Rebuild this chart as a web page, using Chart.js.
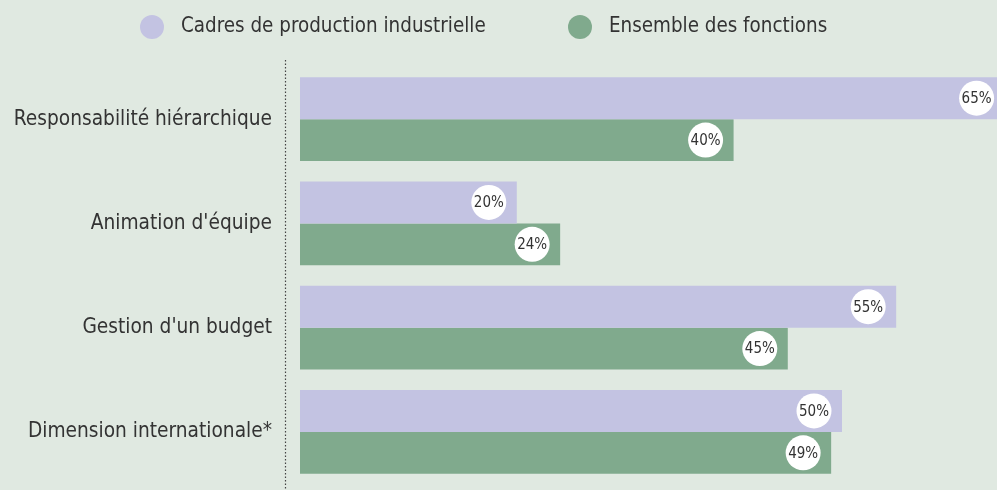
<!DOCTYPE html>
<html>
<head>
<meta charset="utf-8">
<script src="https://cdn.jsdelivr.net/npm/chart.js@4"></script>
<style>
  html, body { margin: 0; padding: 0; background: #e0e9e1; }
</style>
</head>
<body>
<canvas id="chart" width="997" height="490"></canvas>
<script>
const categories = [
  'Responsabilité hiérarchique',
  "Animation d'équipe",
  "Gestion d'un budget",
  'Dimension internationale*'
];
const seriesNames = ['Cadres de production industrielle', 'Ensemble des fonctions'];
const cadresValues = [65, 20, 55, 50];
const ensembleValues = [40, 24, 45, 49];

const FONT = '"DejaVu Sans Condensed", "DejaVu Sans", sans-serif';
const TEXT = '#333333';
const PURPLE = '#c3c3e2';
const GREEN = '#80aa8d';

// legend drawn by hand so the two items sit where they belong
const legendPlugin = {
  id: 'topLegend',
  afterDraw(chart) {
    const { ctx } = chart;
    const items = [
      { x: 152, color: PURPLE, text: seriesNames[0] },
      { x: 580, color: GREEN, text: seriesNames[1] }
    ];
    ctx.save();
    ctx.font = '20.4px ' + FONT;
    ctx.textBaseline = 'middle';
    items.forEach((it) => {
      ctx.fillStyle = it.color;
      ctx.beginPath();
      ctx.arc(it.x, 27, 12, 0, Math.PI * 2);
      ctx.fill();
      ctx.fillStyle = TEXT;
      ctx.fillText(it.text, it.x + 29, 27);
    });
    ctx.restore();
  }
};

// dotted separator between the labels and the bars
const dividerPlugin = {
  id: 'divider',
  beforeDatasetsDraw(chart) {
    const { ctx } = chart;
    ctx.save();
    ctx.strokeStyle = '#444';
    ctx.lineWidth = 1.2;
    ctx.setLineDash([1.5, 2]);
    ctx.beginPath();
    ctx.moveTo(285.5, 60);
    ctx.lineTo(285.5, 490);
    ctx.stroke();
    ctx.restore();
  }
};

// white disc with the value near the end of every bar
const valueBadges = {
  id: 'valueBadges',
  afterDatasetsDraw(chart) {
    const { ctx } = chart;
    const xScale = chart.scales.x;
    ctx.save();
    ctx.font = '15px ' + FONT;
    ctx.textAlign = 'center';
    ctx.textBaseline = 'middle';
    chart.data.datasets.forEach((ds, di) => {
      chart.getDatasetMeta(di).data.forEach((bar, i) => {
        const cx = xScale.getPixelForValue(ds.data[i]) - 28;
        const cy = bar.y;
        ctx.fillStyle = '#ffffff';
        ctx.beginPath();
        ctx.arc(cx, cy, 17.5, 0, Math.PI * 2);
        ctx.fill();
        ctx.fillStyle = TEXT;
        ctx.fillText(ds.data[i] + '%', cx, cy + 1);
      });
    });
    ctx.restore();
  }
};

new Chart(document.getElementById('chart'), {
  type: 'bar',
  data: {
    labels: categories,
    datasets: [
      { label: seriesNames[0], data: cadresValues, backgroundColor: PURPLE },
      { label: seriesNames[1], data: ensembleValues, backgroundColor: GREEN }
    ]
  },
  options: {
    indexAxis: 'y',
    responsive: false,
    animation: false,
    layout: { padding: { top: 67, bottom: 6, left: 0, right: 0 } },
    datasets: {
      bar: { barPercentage: 1, categoryPercentage: 0.805 }
    },
    plugins: {
      legend: { display: false },
      tooltip: { enabled: false }
    },
    scales: {
      x: { display: false, min: 0, max: 64.3 },
      y: {
        grid: { display: false, drawTicks: false },
        border: { display: false },
        ticks: {
          color: TEXT,
          font: { family: FONT, size: 20.7 },
          padding: 28
        },
        afterFit(scale) {
          scale.width = 300;
          // tick padding would otherwise eat into the plot height
          scale.paddingTop = 0;
          scale.paddingBottom = 0;
        }
      }
    }
  },
  plugins: [dividerPlugin, valueBadges, legendPlugin]
});
</script>
</body>
</html>
